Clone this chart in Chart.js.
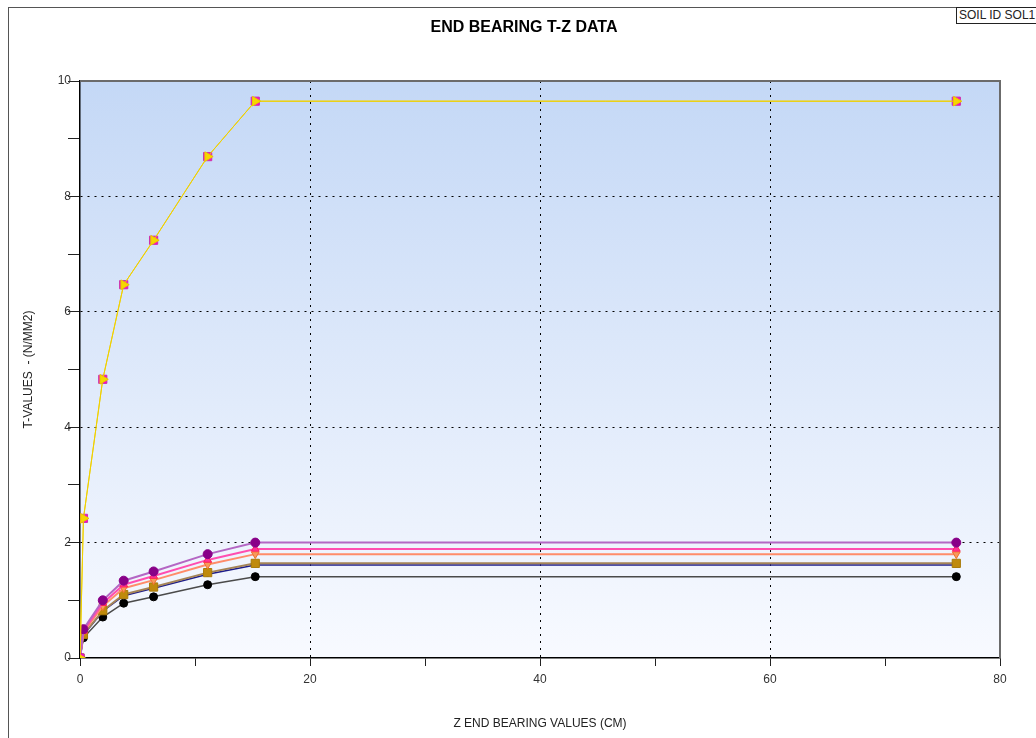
<!DOCTYPE html>
<html>
<head>
<meta charset="utf-8">
<title>End bearing T-Z data</title>
<script src="https://cdn.jsdelivr.net/npm/chart.js@4.4.1/dist/chart.umd.min.js"></script>
<style>
  html, body { margin: 0; padding: 0; background: #fff; overflow: hidden; }
  #frame { position: absolute; left: 8px; top: 7px; width: 1040px; height: 740px;
           border-left: 1px solid #555; border-top: 1px solid #555; }
  #wrap { position: absolute; left: 9px; top: 8px; width: 1027px; height: 730px; }
  #soil { position: absolute; left: 956px; top: 7px; height: 15px; padding: 0 2px;
          border: 1px solid #222; background: #fff; color: #222;
          font: 12px "Liberation Sans", Arial, sans-serif; line-height: 15px; white-space: nowrap; }
</style>
</head>
<body>
<div id="frame"></div>
<div id="wrap"><canvas id="tzChart"></canvas></div>
<div id="soil">SOIL ID SOL1</div>

<script>
// depth values (cm) shared by every curve
var zValues = [0, 0.3, 1.98, 3.8, 6.4, 11.1, 15.24, 76.2];

// T values (N/mm2) for each curve
var tYellow = [0, 2.42, 4.83, 6.47, 7.24, 8.69, 9.65, 9.65];
var tPurple = [0, 0.50, 1.00, 1.34, 1.50, 1.80, 2.00, 2.00];
var tPink   = [0, 0.47, 0.95, 1.27, 1.42, 1.70, 1.89, 1.89];
var tSalmon = [0, 0.45, 0.90, 1.21, 1.35, 1.62, 1.80, 1.80];
var tBrown  = [0, 0.41, 0.82, 1.10, 1.23, 1.48, 1.64, 1.64];
var tNavy   = [0, 0.40, 0.81, 1.08, 1.21, 1.45, 1.61, 1.61];
var tBlack  = [0, 0.35, 0.71, 0.95, 1.06, 1.27, 1.41, 1.41];

// labelled ticks
var xTickLabels = [0, 20, 40, 60, 80];
var yTickLabels = [0, 2, 4, 6, 8, 10];

function pts(ys) {
  return zValues.map(function(z, i) { return { x: z, y: ys[i] }; });
}

function series(ys, line, width, style, fill, edge, radius, rot) {
  return {
    data: pts(ys),
    showLine: true,
    borderColor: line,
    borderWidth: width,
    pointStyle: style,
    pointBackgroundColor: fill,
    pointBorderColor: edge,
    pointBorderWidth: 1,
    pointRadius: radius,
    pointRotation: rot || 0,
    tension: 0
  };
}

// plot background gradient + top/right frame
var plotFrame = {
  id: 'plotFrame',
  beforeDraw: function(chart) {
    var a = chart.chartArea, ctx = chart.ctx;
    var g = ctx.createLinearGradient(0, a.top, 0, a.bottom);
    g.addColorStop(0, '#c4d8f6');
    g.addColorStop(1, '#f8faff');
    ctx.save();
    ctx.fillStyle = g;
    ctx.fillRect(a.left, a.top, a.right - a.left, a.bottom - a.top);
    ctx.restore();
  },
  afterDraw: function(chart) {
    var a = chart.chartArea, ctx = chart.ctx;
    ctx.save();
    ctx.strokeStyle = '#6b6b6b';
    ctx.lineWidth = 2;
    ctx.beginPath();
    ctx.moveTo(a.left, a.top);
    ctx.lineTo(a.right, a.top);
    ctx.lineTo(a.right, a.bottom);
    ctx.stroke();
    ctx.restore();
  }
};

var font = { family: '"Liberation Sans", Arial, sans-serif', size: 12 };

var ctx = document.getElementById('tzChart').getContext('2d');
var chart = new Chart(ctx, {
  type: 'scatter',
  data: {
    datasets: [
      series(tYellow, '#f0d000', 1, 'triangle', '#f7d600', '#e8c800', 5.5, 90),
      series(tYellow, '#f0d000', 1, 'rect', '#ff00cc', '#cc33aa', 5.8),
      series(tPurple, '#b466c4', 2, 'circle', '#880088', '#880088', 4.5),
      series(tPink, '#ff4db0', 2, 'triangle', '#ff3399', '#ff2255', 4.5),
      series(tSalmon, '#ff8c6a', 2, 'triangle', '#f79a5a', '#f07030', 4.5, 180),
      series(tBrown, '#a48458', 2, 'rect', '#bf8a0c', '#a87a08', 5.8),
      series(tNavy, '#1c1c8a', 1.5, 'circle', '#2a2aa0', '#2a2aa0', 2),
      series(tBlack, '#4a4a4a', 1.5, 'circle', '#000000', '#000000', 4)
    ]
  },
  options: {
    responsive: true,
    maintainAspectRatio: false,
    animation: false,
    events: [],
    layout: { padding: { left: 39, right: 36, top: 0, bottom: 0 } },
    plugins: {
      legend: { display: false },
      tooltip: { enabled: false },
      title: {
        display: true,
        text: 'END BEARING T-Z DATA',
        color: '#000',
        font: { family: '"Liberation Sans", Arial, sans-serif', size: 16, weight: 'bold', lineHeight: 1.2 },
        padding: { top: 10.2, bottom: 43.6 }
      }
    },
    scales: {
      x: {
        type: 'linear',
        min: 0,
        max: 80,
        afterFit: function(s) { s.height = 80; },
        ticks: {
          stepSize: 10,
          autoSkip: false,
          maxRotation: 0,
          padding: 6,
          color: '#333',
          font: font,
          callback: function(v) { return xTickLabels.indexOf(v) >= 0 ? String(v) : ''; }
        },
        grid: {
          color: function(c) {
            var v = c.tick && c.tick.value;
            return (v === 20 || v === 40 || v === 60) ? '#000' : 'rgba(0,0,0,0)';
          },
          tickColor: '#222',
          tickLength: 8,
          lineWidth: 1
        },
        border: { display: true, color: '#000', width: 1.5, dash: [2, 5] },
        title: {
          display: true,
          text: 'Z END BEARING VALUES (CM)',
          color: '#222',
          font: font,
          padding: { top: 0, bottom: 7 }
        }
      },
      y: {
        type: 'linear',
        min: 0,
        max: 10,
        afterFit: function(s) { s.width = 32; },
        ticks: {
          stepSize: 1,
          autoSkip: false,
          padding: -3,
          color: '#333',
          font: font,
          callback: function(v) { return yTickLabels.indexOf(v) >= 0 ? String(v) : ''; }
        },
        grid: {
          color: function(c) {
            var v = c.tick && c.tick.value;
            return (v === 2 || v === 4 || v === 6 || v === 8) ? '#000' : 'rgba(0,0,0,0)';
          },
          tickColor: '#222',
          tickLength: 12,
          lineWidth: 1
        },
        border: { display: true, color: '#000', width: 1.5, dash: [2, 5] },
        title: {
          display: true,
          text: 'T-VALUES  - (N/MM2)',
          color: '#222',
          font: font,
          padding: { top: -27, bottom: 0 }
        }
      }
    }
  },
  plugins: [plotFrame]
});
</script>
</body>
</html>
